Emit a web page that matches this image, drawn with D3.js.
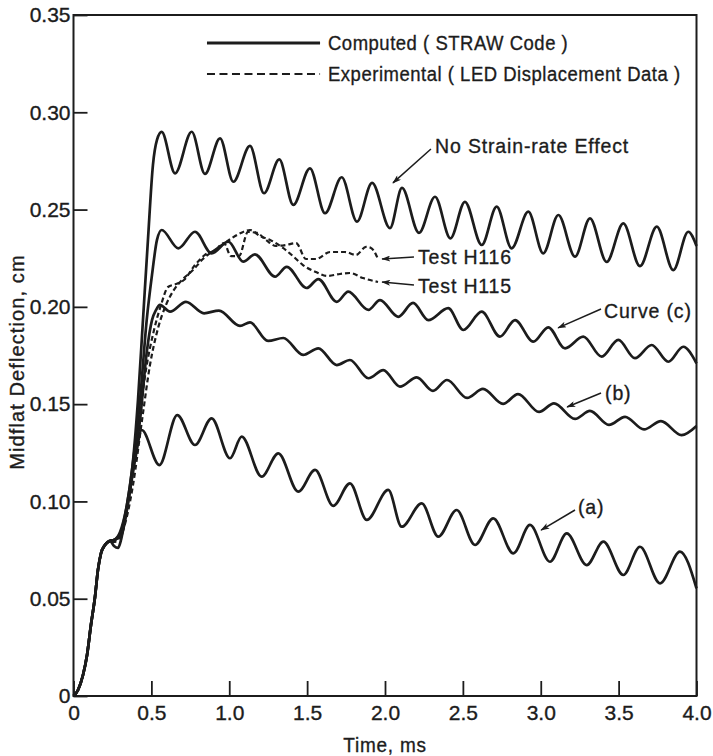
<!DOCTYPE html>
<html>
<head>
<meta charset="utf-8">
<script src="https://cdn.jsdelivr.net/npm/d3@7/dist/d3.min.js"></script>
<style>
  html, body { margin: 0; padding: 0; background: #ffffff; }
  svg text { font-family: "Liberation Sans", Arial, "Noto Sans", sans-serif; fill: #1c1c1c; stroke: #1c1c1c; stroke-width: 0.35px; }
</style>
</head>
<body>
<svg id="chart" width="713" height="756"></svg>
<script>
// ---------------- data ----------------
const xTicks = [0, 0.5, 1.0, 1.5, 2.0, 2.5, 3.0, 3.5, 4.0];
const xTickLabels = ["0", "0.5", "1.0", "1.5", "2.0", "2.5", "3.0", "3.5", "4.0"];
const yTicks = [0, 0.05, 0.10, 0.15, 0.20, 0.25, 0.30, 0.35];
const yTickLabels = ["0", "0.05", "0.10", "0.15", "0.20", "0.25", "0.30", "0.35"];

// common initial response shared by all curves [time ms, deflection cm]
const stem = [[0,0],[0.029,0.0031],[0.061,0.0108],[0.087,0.0211],[0.112,0.0365],[0.138,0.0509],
  [0.157,0.0648],[0.177,0.0735],[0.202,0.0776],[0.234,0.0797]];

const noStrainRate = [[0.260,0.0802],[0.299,0.0843],[0.343,0.0982],[0.376,0.1162],[0.414,0.1521],
  [0.446,0.1932],[0.478,0.2344],[0.510,0.2729],[0.536,0.2858],[0.566,0.2899],
  [0.652,0.2686],[0.759,0.2900],[0.844,0.2683],[0.941,0.2866],[1.026,0.2643],[1.133,0.2827],
  [1.223,0.2584],[1.321,0.2758],[1.411,0.2524],[1.518,0.2712],[1.615,0.2481],[1.722,0.2666],
  [1.820,0.2438],[1.917,0.2637],[2.032,0.2405],[2.109,0.2611],[2.218,0.2380],[2.321,0.2566],
  [2.420,0.2352],[2.513,0.2540],[2.621,0.2318],[2.717,0.2515],[2.813,0.2301],[2.920,0.2489],
  [3.016,0.2275],[3.113,0.2472],[3.220,0.2258],[3.316,0.2455],[3.423,0.2231],[3.530,0.2429],
  [3.637,0.2209],[3.745,0.2412],[3.851,0.2189],[3.947,0.2386],[4.0,0.2313]];

const curveC = [[0.260,0.0802],[0.305,0.0843],[0.343,0.0982],[0.388,0.1239],[0.427,0.1521],
  [0.470,0.1932],[0.504,0.2164],[0.536,0.2344],[0.566,0.2395],
  [0.673,0.2301],[0.780,0.2386],[0.887,0.2275],[0.994,0.2335],[1.090,0.2232],[1.165,0.2270],
  [1.294,0.2155],[1.369,0.2206],[1.497,0.2097],[1.572,0.2143],[1.690,0.2026],[1.764,0.2078],
  [1.893,0.1984],[1.968,0.2035],[2.085,0.1949],[2.180,0.2020],[2.278,0.1932],[2.406,0.1993],
  [2.503,0.1881],[2.621,0.1975],[2.738,0.1847],[2.835,0.1932],[2.952,0.1821],[3.048,0.1895],
  [3.156,0.1787],[3.273,0.1847],[3.391,0.1744],[3.498,0.1830],[3.605,0.1736],[3.712,0.1804],
  [3.819,0.1718],[3.915,0.1795],[4.0,0.1710]];

const curveB = [[0.260,0.0802],[0.305,0.0822],[0.343,0.0956],[0.382,0.1162],[0.427,0.1418],
  [0.472,0.1778],[0.504,0.1932],[0.530,0.1984],[0.555,0.2010],
  [0.620,0.1975],[0.722,0.2026],[0.838,0.1967],[0.934,0.1981],[1.069,0.1902],[1.133,0.1920],
  [1.249,0.1825],[1.347,0.1840],[1.474,0.1753],[1.572,0.1787],[1.690,0.1701],[1.775,0.1727],
  [1.893,0.1633],[1.989,0.1675],[2.096,0.1590],[2.204,0.1638],[2.308,0.1568],[2.398,0.1624],
  [2.527,0.1532],[2.629,0.1578],[2.758,0.1501],[2.854,0.1552],[2.989,0.1460],[3.085,0.1504],
  [3.220,0.1424],[3.316,0.1465],[3.438,0.1393],[3.541,0.1435],[3.663,0.1370],[3.772,0.1413],
  [3.904,0.1341],[4.0,0.1388]];

const curveA = [[0.260,0.0771],[0.286,0.0761],[0.305,0.0802],[0.324,0.0879],[0.363,0.1059],
  [0.401,0.1239],[0.438,0.1367],
  [0.551,0.1187],[0.666,0.1444],[0.780,0.1290],[0.887,0.1427],[1.005,0.1222],[1.080,0.1333],
  [1.208,0.1127],[1.315,0.1247],[1.443,0.1050],[1.551,0.1162],[1.668,0.0977],[1.775,0.1093],
  [1.883,0.0905],[2.021,0.1059],[2.107,0.0870],[2.236,0.0990],[2.342,0.0819],[2.460,0.0956],
  [2.578,0.0776],[2.695,0.0913],[2.824,0.0733],[2.931,0.0879],[3.059,0.0690],[3.167,0.0836],
  [3.295,0.0673],[3.402,0.0793],[3.530,0.0622],[3.637,0.0767],[3.766,0.0579],[3.894,0.0742],
  [4.0,0.0553]];

const testH116 = [[0.260,0.0797],[0.311,0.0853],[0.363,0.1059],[0.414,0.1367],[0.465,0.1675],
  [0.517,0.1881],[0.562,0.2010],[0.607,0.2102],[0.658,0.2117],[0.709,0.2138],[0.780,0.2215],
  [0.844,0.2267],[0.909,0.2292],[0.966,0.2328],[1.011,0.2261],[1.063,0.2261],[1.120,0.2385],
  [1.178,0.2380],[1.236,0.2344],[1.300,0.2313],[1.364,0.2318],[1.429,0.2328],[1.493,0.2246],
  [1.557,0.2246],[1.647,0.2282],[1.743,0.2282],[1.814,0.2267],[1.878,0.2308],[1.910,0.2303],
  [1.955,0.2246]];

const testH115 = [[0.260,0.0792],[0.318,0.0853],[0.382,0.1084],[0.440,0.1418],[0.491,0.1701],
  [0.543,0.1891],[0.594,0.2010],[0.645,0.2087],[0.703,0.2143],[0.767,0.2189],[0.831,0.2246],
  [0.896,0.2287],[0.953,0.2318],[1.018,0.2354],[1.075,0.2380],[1.133,0.2395],[1.197,0.2364],
  [1.262,0.2344],[1.345,0.2303],[1.409,0.2261],[1.473,0.2215],[1.557,0.2179],[1.628,0.2159],
  [1.711,0.2169],[1.775,0.2174],[1.859,0.2148],[1.955,0.2128]];

// annotation labels: text, text anchor point [t, v], arrow from [t,v] to [t,v]
const annotations = [
  {text: "No Strain-rate Effect", at: [2.321, 0.2791], from: [2.295, 0.2811], to: [2.051, 0.2637]},
  {text: "Test H116",            at: [2.212, 0.2220], from: [2.186, 0.2256], to: [1.981, 0.2246]},
  {text: "Test H115",            at: [2.212, 0.2071], from: [2.186, 0.2112], to: [1.981, 0.2128]},
  {text: "Curve (c)",            at: [3.406, 0.1943], from: [3.387, 0.1989], to: [3.111, 0.1892]},
  {text: "(b)",                  at: [3.413, 0.1521], from: [3.387, 0.1557], to: [3.169, 0.1485]},
  {text: "(a)",                  at: [3.239, 0.0935], from: [3.220, 0.0956], to: [3.002, 0.0853]}
];

const legendItems = [
  {text: "Computed ( STRAW Code )", dashed: false, line: [[0.857, 0.3356], [1.583, 0.3356]], at: [1.634, 0.3322]},
  {text: "Experimental ( LED Displacement Data )", dashed: true, line: [[0.857, 0.3197], [1.583, 0.3197]], at: [1.634, 0.3163]}
];

// ---------------- drawing ----------------
const svg = d3.select("#chart");
const ink = "#1c1c1c";

const x = d3.scaleLinear().domain([0, 4]).range([73.5, 696.5]);
const y = d3.scaleLinear().domain([0, 0.35]).range([696, 15]);

svg.append("rect").attr("width", 713).attr("height", 756).attr("fill", "#ffffff");

const defs = svg.append("defs");
defs.append("marker").attr("id", "arrow").attr("viewBox", "0 0 12 8")
  .attr("refX", 11).attr("refY", 4).attr("markerWidth", 12).attr("markerHeight", 6)
  .attr("markerUnits", "userSpaceOnUse").attr("orient", "auto")
  .append("path").attr("d", "M0,0 L12,4 L0,8 L3,4 z").attr("fill", ink);

// axes with inward ticks
const yAxis = d3.axisLeft(y).tickValues(yTicks).tickFormat((d, i) => yTickLabels[i])
  .tickSize(-14).tickPadding(3);
const xAxis = d3.axisBottom(x).tickValues(xTicks).tickFormat((d, i) => xTickLabels[i])
  .tickSize(-15).tickPadding(9);

const gy = svg.append("g").attr("transform", `translate(${x(0)},0)`).call(yAxis);
const gx = svg.append("g").attr("transform", `translate(0,${y(0)})`).call(xAxis);
[gy, gx].forEach(g => {
  g.select(".domain").remove();
  g.selectAll(".tick line").attr("stroke", ink).attr("stroke-width", 1.8);
  g.selectAll(".tick text").attr("font-size", 21).attr("fill", ink)
    .style("font-family", '"Liberation Sans", Arial, sans-serif');
});

// frame
svg.append("rect")
  .attr("x", x(0)).attr("y", y(0.35))
  .attr("width", x(4) - x(0)).attr("height", y(0) - y(0.35))
  .attr("fill", "none").attr("stroke", ink).attr("stroke-width", 2);

// curves
const line = d3.line().x(d => x(d[0])).y(d => y(d[1])).curve(d3.curveMonotoneX);
const solidSeries = [noStrainRate, curveC, curveB, curveA];
solidSeries.forEach(s => {
  svg.append("path").datum(stem.concat(s)).attr("d", line)
    .attr("fill", "none").attr("stroke", ink).attr("stroke-width", 2.7)
    .attr("stroke-linejoin", "round");
});
[testH116, testH115].forEach(s => {
  svg.append("path").datum(stem.slice(-2).concat(s)).attr("d", line)
    .attr("fill", "none").attr("stroke", ink).attr("stroke-width", 2.2)
    .attr("stroke-dasharray", "5,3");
});

// legend
legendItems.forEach(it => {
  svg.append("line")
    .attr("x1", x(it.line[0][0])).attr("y1", y(it.line[0][1]))
    .attr("x2", x(it.line[1][0])).attr("y2", y(it.line[1][1]))
    .attr("stroke", ink).attr("stroke-width", it.dashed ? 2 : 2.8)
    .attr("stroke-dasharray", it.dashed ? "8,4.5" : null);
  svg.append("text")
    .attr("transform", `translate(${x(it.at[0])},${y(it.at[1])}) scale(0.88,1)`)
    .attr("font-size", 21).attr("letter-spacing", 0.6).text(it.text);
});

// annotations
annotations.forEach(a => {
  svg.append("line")
    .attr("x1", x(a.from[0])).attr("y1", y(a.from[1]))
    .attr("x2", x(a.to[0])).attr("y2", y(a.to[1]))
    .attr("stroke", ink).attr("stroke-width", 1.5)
    .attr("marker-end", "url(#arrow)");
  svg.append("text")
    .attr("transform", `translate(${x(a.at[0])},${y(a.at[1])}) scale(0.93,1)`)
    .attr("font-size", 21).attr("letter-spacing", 0.9).text(a.text);
});

// axis titles
svg.append("text").attr("transform", `translate(${(x(0) + x(4)) / 2},752) scale(0.95,1)`)
  .attr("text-anchor", "middle").attr("font-size", 20).attr("letter-spacing", 0.8)
  .text("Time, ms");
svg.append("text").attr("transform", "translate(24,362) rotate(-90)")
  .attr("text-anchor", "middle").attr("font-size", 20).attr("letter-spacing", 1.1)
  .text("Midflat Deflection, cm");
</script>
</body>
</html>
